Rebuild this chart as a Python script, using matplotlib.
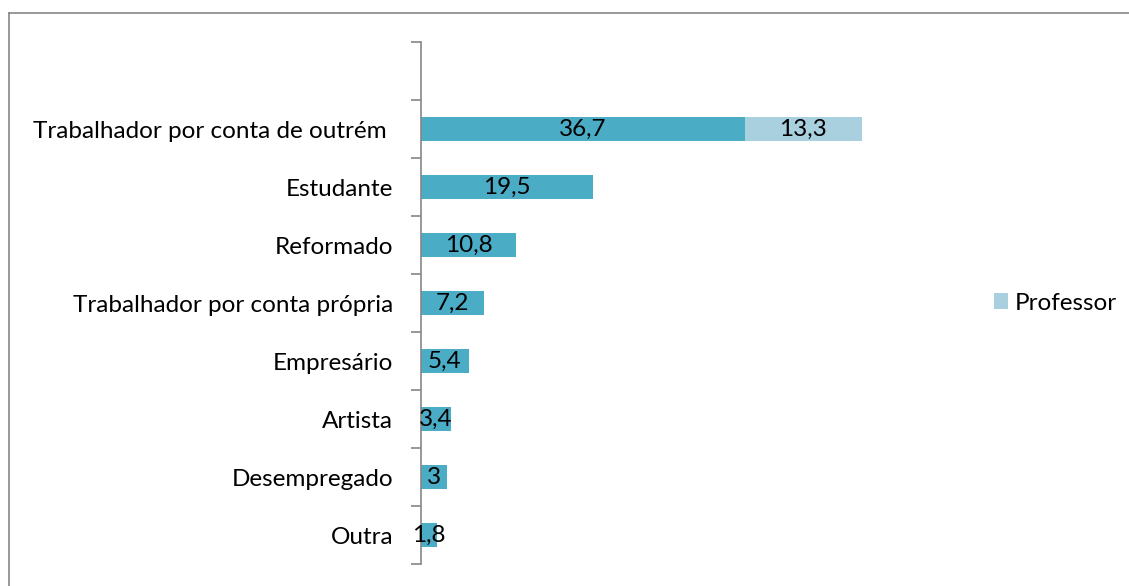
import matplotlib
matplotlib.use('Agg')
import matplotlib.pyplot as plt
from matplotlib.lines import Line2D
import numpy as np

plt.rcParams['font.family'] = ['Lato', 'DejaVu Sans']

categorias = ['', 'Trabalhador por conta de outrém ', 'Estudante', 'Reformado',
              'Trabalhador por conta própria', 'Empresário', 'Artista',
              'Desempregado', 'Outra']
base = [0, 36.7, 19.5, 10.8, 7.2, 5.4, 3.4, 3.0, 1.8]
professor = [0, 13.3, 0, 0, 0, 0, 0, 0, 0]
rotulos_base = ['', '36,7', '19,5', '10,8', '7,2', '5,4', '3,4', '3', '1,8']
rotulos_prof = ['', '13,3', '', '', '', '', '', '', '']

W, H = 1129, 586
fs = 17.5
fig = plt.figure(figsize=(W / 100, H / 100), dpi=100)
ax = fig.add_axes([421 / W, 1 - 564 / H, (950 - 421) / W, (564 - 42) / H])

n = len(categorias)
y = np.arange(n)[::-1]
c1 = '#4BACC6'
c2 = '#A9D0DE'
ax.barh(y, base, height=0.4, color=c1, label='_nolegend_')
ax.barh(y, professor, left=base, height=0.4, color=c2, label='Professor')

for yi, b, p, lb, lp in zip(y, base, professor, rotulos_base, rotulos_prof):
    if lb:
        ax.text(b / 2, yi, lb, ha='center', va='center', fontsize=fs, color='black')
    if lp:
        ax.text(b + p / 2, yi, lp, ha='center', va='center', fontsize=fs, color='black')

ax.set_xlim(0, 60)
ax.set_ylim(-0.5, n - 0.5)
ax.set_yticks(y)
ax.set_yticklabels(categorias, fontsize=fs)
ax.tick_params(axis='y', length=0, pad=20)
ax.set_yticks(np.arange(-0.5, n, 1), minor=True)
ax.tick_params(axis='y', which='minor', length=7, color='#868686', width=1.2)
ax.set_xticks([])
for s in ['top', 'right', 'bottom']:
    ax.spines[s].set_visible(False)
ax.spines['left'].set_color('#868686')
ax.spines['left'].set_linewidth(1.2)

leg = ax.legend(loc='center left', bbox_to_anchor=(972 / W, 1 - 303 / H),
                bbox_transform=fig.transFigure, frameon=False, fontsize=fs,
                handlelength=0.6, handleheight=0.6, handletextpad=0.25)

# moldura do gráfico
fig.add_artist(Line2D([9 / W, 9 / W], [0, 1 - 13 / H], transform=fig.transFigure,
                      color='#868686', lw=1.2))
fig.add_artist(Line2D([9 / W, 1], [1 - 13 / H, 1 - 13 / H], transform=fig.transFigure,
                      color='#868686', lw=1.2))

fig.savefig('out.png', dpi=100)
